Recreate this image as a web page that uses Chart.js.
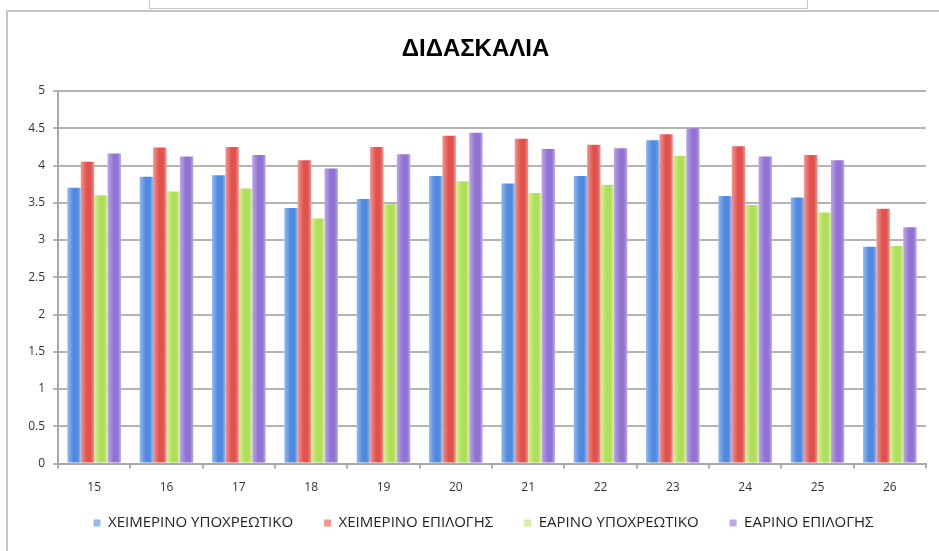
<!DOCTYPE html>
<html>
<head>
<meta charset="utf-8">
<script src="https://cdn.jsdelivr.net/npm/chart.js@4"></script>
<style>
  html, body { margin: 0; padding: 0; background: #ffffff; width: 939px; height: 551px; overflow: hidden; }
  #frame { position: absolute; left: 6px; top: 10px; width: 960px; height: 600px; border-left: 2px solid #c4c4c4; border-top: 2px solid #c4c4c4; }
  #topbox { position: absolute; left: 149px; top: -4px; width: 657px; height: 11px; border: 1.5px solid #c8c8c8; background: #fff; }
  #wrap { position: absolute; left: 0; top: 0; width: 939px; height: 551px; }
</style>
</head>
<body>
<div id="topbox"></div>
<div id="frame"></div>
<div id="wrap"><canvas id="c" width="939" height="551"></canvas></div>
<script>
const categories = ['15','16','17','18','19','20','21','22','23','24','25','26'];
const seriesNames = ['ΧΕΙΜΕΡΙΝΟ ΥΠΟΧΡΕΩΤΙΚΟ','ΧΕΙΜΕΡΙΝΟ ΕΠΙΛΟΓΗΣ','ΕΑΡΙΝΟ ΥΠΟΧΡΕΩΤΙΚΟ','ΕΑΡΙΝΟ ΕΠΙΛΟΓΗΣ'];
const winterRequired = [3.70, 3.85, 3.87, 3.43, 3.55, 3.86, 3.76, 3.86, 4.34, 3.59, 3.57, 2.91];
const winterElective = [4.05, 4.24, 4.25, 4.07, 4.25, 4.40, 4.36, 4.28, 4.42, 4.26, 4.14, 3.42];
const springRequired = [3.60, 3.65, 3.69, 3.29, 3.48, 3.79, 3.63, 3.74, 4.13, 3.47, 3.37, 2.92];
const springElective = [4.16, 4.12, 4.14, 3.96, 4.15, 4.44, 4.22, 4.23, 4.50, 4.12, 4.07, 3.17];
const yTicks = [0, 0.5, 1, 1.5, 2, 2.5, 3, 3.5, 4, 4.5, 5];
const chartTitle = 'ΔΙΔΑΣΚΑΛΙΑ';

const colors = ['#6198e6', '#e9615d', '#bce46a', '#9f83d9'];
const edgeColors = ['#8fbaf2', '#f29490', '#d3f19c', '#bba7ea'];
const coreColors = ['#5189df', '#e2524d', '#b0de58', '#9272d2'];
const values = [winterRequired, winterElective, springRequired, springElective];
const CAT_PCT = 0.74;

function barFill(i) {
  return (ctx) => {
    if (ctx.type !== 'data') return colors[i];
    const xs = ctx.chart.scales.x;
    if (!xs || !xs.width) return colors[i];
    const catW = xs.width / categories.length;
    const barW = catW * CAT_PCT / values.length;
    const left = xs.getPixelForValue(ctx.dataIndex) - catW * CAT_PCT / 2 + i * barW;
    const g = ctx.chart.ctx.createLinearGradient(left, 0, left + barW, 0);
    g.addColorStop(0, edgeColors[i]);
    g.addColorStop(0.45, coreColors[i]);
    g.addColorStop(0.75, coreColors[i]);
    g.addColorStop(1, edgeColors[i]);
    return g;
  };
}

const LEGEND_PAD = 31;
const legendFix = {
  id: 'legendFix',
  afterInit(chart) {
    const lg = chart.legend;
    if (!lg) return;
    const f = lg.fit;
    lg.fit = function () { f.call(this); this.height = 21; };
    const d = lg.draw;
    lg.draw = function () {
      const t = this.top, l = this.left, r = this.right;
      this.top = t - (LEGEND_PAD - 5);
      this.left = l + 8; this.right = r + 8;
      d.call(this);
      this.top = t; this.left = l; this.right = r;
    };
  }
};

new Chart(document.getElementById('c'), {
  type: 'bar',
  data: {
    labels: categories,
    datasets: values.map((v, i) => ({
      label: seriesNames[i],
      data: v,
      backgroundColor: barFill(i),
      borderWidth: 0,
      categoryPercentage: CAT_PCT,
      barPercentage: 1.0
    }))
  },
  options: {
    responsive: false,
    animation: false,
    layout: { padding: { left: 25, right: 13, top: 0, bottom: 19.5 } },
    plugins: {
      title: {
        display: true,
        text: chartTitle,
        color: '#000',
        font: { family: "'Liberation Sans', Arial, sans-serif", size: 24, weight: 'bold' },
        padding: { top: 35, bottom: 27.2 }
      },
      legend: {
        position: 'bottom',
        labels: {
          boxWidth: 7, boxHeight: 7, padding: LEGEND_PAD,
          color: '#222',
          font: { family: "'Open Sans', sans-serif", size: 15 }
        }
      },
      tooltip: { enabled: false }
    },
    scales: {
      x: {
        afterFit(s) { s.height = 47; },
        grid: { display: true, drawOnChartArea: false, drawTicks: true, tickLength: 5, color: '#b0b0b0', lineWidth: 2, offset: true },
        border: { color: '#a8a8a8', width: 2 },
        ticks: { color: '#333', padding: 12, font: { family: "'Open Sans', sans-serif", size: 12 } }
      },
      y: {
        min: 0, max: 5,
        afterFit(s) { s.width = 33; },
        afterBuildTicks(s) { s.ticks = yTicks.map(v => ({ value: v })); },
        grid: { color: '#b4b4b4', lineWidth: 2, tickLength: 5, drawTicks: true },
        border: { color: '#a8a8a8', width: 2 },
        ticks: { color: '#333', padding: 8, font: { family: "'Open Sans', sans-serif", size: 12 }, callback: (v) => String(v) }
      }
    }
  },
  plugins: [legendFix]
});
</script>
</body>
</html>
